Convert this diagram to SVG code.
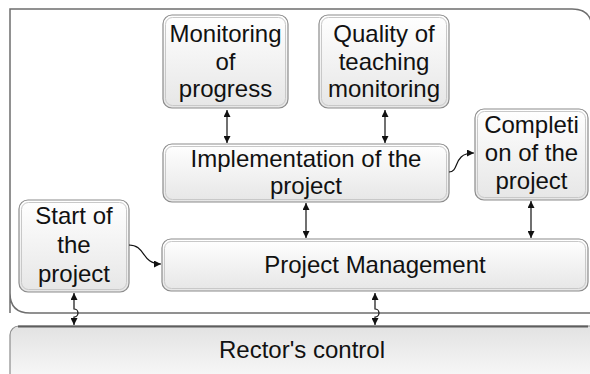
<svg xmlns="http://www.w3.org/2000/svg" width="590" height="374" viewBox="0 0 590 374">
  <defs>
    <linearGradient id="boxFill" x1="0" y1="0" x2="0" y2="1">
      <stop offset="0" stop-color="#ffffff"/>
      <stop offset="1" stop-color="#e6e6e6"/>
    </linearGradient>
    <linearGradient id="baseFill" x1="0" y1="0" x2="0" y2="1">
      <stop offset="0" stop-color="#e2e2e2"/>
      <stop offset="1" stop-color="#fbfbfb"/>
    </linearGradient>
    <marker id="head" viewBox="0 0 10 10" refX="10" refY="5" markerWidth="7" markerHeight="7" markerUnits="userSpaceOnUse" orient="auto-start-reverse">
      <path d="M0,0 L10,5 L0,10 z" fill="#111"/>
    </marker>
    <style>
      .outer { fill: url(#boxFill); stroke: #8c8c8c; stroke-width: 1.2; }
      .inner { fill: none; stroke: #c8c8c8; stroke-width: 1; }
      .label { font-family: "Liberation Sans", Arial, sans-serif; font-size: 24px; fill: #111; text-anchor: middle; }
      .wire { fill: none; stroke: #111; stroke-width: 1.2; }
      .both { marker-start: url(#head); marker-end: url(#head); }
      .one { marker-end: url(#head); }
    </style>
  </defs>

  <rect width="590" height="374" fill="#ffffff"/>

  <!-- enclosing frame around the project area -->
  <path id="frame" d="M10,313 L10,9 L572,9 Q592,9 592,29 L592,313 L30,313 Q10,313 10,293" fill="none" stroke="#6e6e6e" stroke-width="1.5"/>

  <g id="rector">
    <rect x="10" y="326" width="600" height="60" rx="9" fill="url(#baseFill)" stroke="#8c8c8c" stroke-width="1.2"/>
    <line x1="18" y1="326.5" x2="588" y2="326.5" stroke="#5e5e5e" stroke-width="2"/>
    <text class="label" x="302" y="358">Rector's control</text>
  </g>

  <g id="monitoring">
    <rect class="outer" x="163" y="15" width="125" height="93" rx="9"/>
    <rect class="inner" x="165.5" y="17.5" width="120" height="88" rx="7"/>
    <text class="label" x="225.5" y="42">Monitoring</text>
    <text class="label" x="225.5" y="70">of</text>
    <text class="label" x="225.5" y="97">progress</text>
  </g>

  <g id="quality">
    <rect class="outer" x="319" y="15" width="130" height="93" rx="9"/>
    <rect class="inner" x="321.5" y="17.5" width="125" height="88" rx="7"/>
    <text class="label" x="384" y="42">Quality of</text>
    <text class="label" x="384" y="70">teaching</text>
    <text class="label" x="384" y="97">monitoring</text>
  </g>

  <g id="implementation">
    <rect class="outer" x="163" y="144" width="286" height="58" rx="9"/>
    <rect class="inner" x="165.5" y="146.5" width="281" height="53" rx="7"/>
    <text class="label" x="306" y="167">Implementation of the</text>
    <text class="label" x="306" y="194">project</text>
  </g>

  <g id="completion">
    <rect class="outer" x="475" y="109" width="113" height="91" rx="9"/>
    <rect class="inner" x="477.5" y="111.5" width="108" height="86" rx="7"/>
    <text class="label" x="531.5" y="133">Completi</text>
    <text class="label" x="531.5" y="161">on of the</text>
    <text class="label" x="531.5" y="189">project</text>
  </g>

  <g id="start">
    <rect class="outer" x="19" y="200" width="110" height="92" rx="9"/>
    <rect class="inner" x="21.5" y="202.5" width="105" height="87" rx="7"/>
    <text class="label" x="74" y="224">Start of</text>
    <text class="label" x="74" y="253">the</text>
    <text class="label" x="74" y="282">project</text>
  </g>

  <g id="management">
    <rect class="outer" x="162" y="239" width="426" height="52" rx="9"/>
    <rect class="inner" x="164.5" y="241.5" width="421" height="47" rx="7"/>
    <text class="label" x="375" y="273">Project Management</text>
  </g>

  <g id="connectors">
    <line class="wire both" x1="227" y1="110" x2="227" y2="143"/>
    <line class="wire both" x1="385" y1="110" x2="385" y2="143"/>
    <line class="wire both" x1="306" y1="203" x2="306" y2="238"/>
    <line class="wire both" x1="531" y1="201" x2="531" y2="238"/>
    <path class="wire both" d="M375,293 L375,309 A4,4 0 0 1 375,317 L375,325"/>
    <path class="wire both" d="M74,293 L74,309 A4,4 0 0 1 74,317 L74,325"/>
    <path class="wire one" d="M129,245 C146,245 141,264 161,264"/>
    <path class="wire one" d="M449,172 C460,172 452,153 474,153"/>
  </g>
</svg>
